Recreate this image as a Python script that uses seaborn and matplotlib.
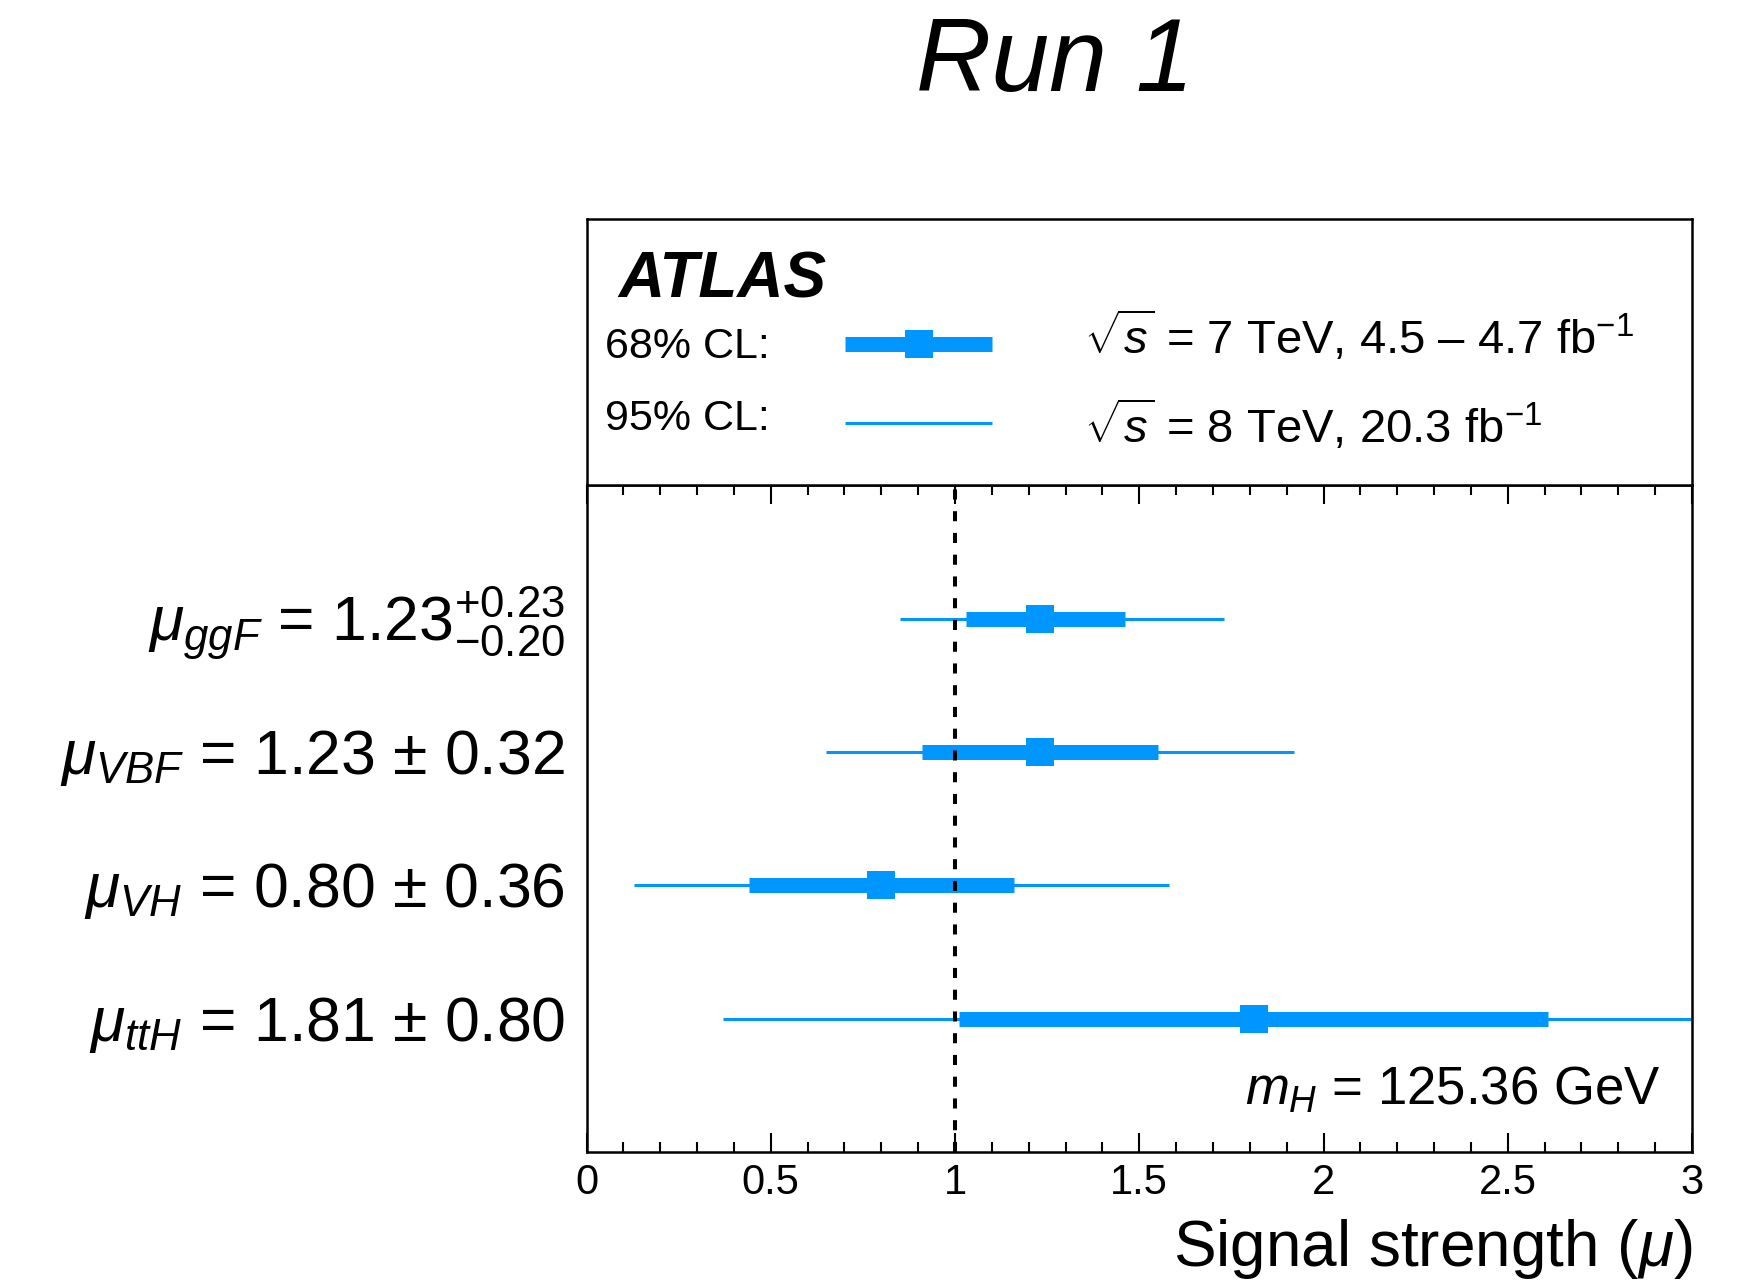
import numpy as np
import pandas as pd
import matplotlib
matplotlib.use("Agg")
import matplotlib.pyplot as plt
from matplotlib.ticker import FixedLocator, MultipleLocator
from matplotlib.transforms import blended_transform_factory
import seaborn as sns

# Signal strengths per production mode (ATLAS Run 1 combination)
processes = ["ggF", "VBF", "VH", "ttH"]
mu_central = [1.23, 1.23, 0.80, 1.81]
cl68_low = [1.03, 0.91, 0.44, 1.01]
cl68_high = [1.46, 1.55, 1.16, 2.61]
cl95_low = [0.85, 0.65, 0.13, 0.37]
cl95_high = [1.73, 1.92, 1.58, 3.40]
row_labels = [
    r"$\mu_{ggF}$ = 1.23$^{+0.23}_{-0.20}$",
    r"$\mu_{VBF}$ = 1.23 ± 0.32",
    r"$\mu_{VH}$ = 0.80 ± 0.36",
    r"$\mu_{ttH}$ = 1.81 ± 0.80",
]
x_ticks = [0, 0.5, 1, 1.5, 2, 2.5, 3]
x_tick_labels = ["0", "0.5", "1", "1.5", "2", "2.5", "3"]

BLUE = "#0096ff"

sns.set_style("ticks")
plt.rcParams["font.family"] = ["Liberation Sans", "DejaVu Sans"]
plt.rcParams["mathtext.fontset"] = "custom"
plt.rcParams["mathtext.rm"] = "Liberation Sans"
plt.rcParams["mathtext.it"] = "Liberation Sans:italic"
plt.rcParams["mathtext.bf"] = "Liberation Sans:bold"
plt.rcParams["text.color"] = "black"
plt.rcParams["axes.labelcolor"] = "black"
plt.rcParams["xtick.color"] = "black"
plt.rcParams["ytick.color"] = "black"

df = pd.DataFrame({
    "process": processes,
    "mu": mu_central,
    "lo68": cl68_low,
    "hi68": cl68_high,
    "lo95": cl95_low,
    "hi95": cl95_high,
    "label": row_labels,
})
# rows from top (ggF) to bottom (ttH)
df["row"] = np.arange(len(df))[::-1] + 1

W, H = 1742, 1286
fig = plt.figure(figsize=(W / 100, H / 100), dpi=100)

ax = fig.add_axes([0.3367, 0.1042, 0.6346, 0.5183])
ax_leg = fig.add_axes([0.3367, 0.6225, 0.6346, 0.2072])

# ---- main panel ----
ax.hlines(df["row"], df["lo95"], df["hi95"], color=BLUE, lw=2.2, zorder=2)
ax.hlines(df["row"], df["lo68"], df["hi68"], color=BLUE, lw=10.8, zorder=3)
sns.scatterplot(data=df, x="mu", y="row", marker="s", s=408, color=BLUE,
                linewidth=0, ax=ax, zorder=4, legend=False)
ax.axvline(1.0, color="black", lw=2.9, linestyle=(0, (2.5, 2.9)), zorder=5)

ax.set_xlim(0, 3)
ax.set_ylim(0, 5)
ax.set_xlabel("")
ax.set_ylabel("")
ax.set_yticks([])
ax.xaxis.set_major_locator(FixedLocator(x_ticks))
ax.set_xticklabels(x_tick_labels)
ax.xaxis.set_minor_locator(MultipleLocator(0.1))
ax.tick_params(axis="x", which="both", direction="in", top=True, bottom=True,
               labeltop=False, labelsize=30, pad=8, width=1.5,
               colors="black")
ax.tick_params(axis="x", which="major", length=13.7)
ax.tick_params(axis="x", which="minor", length=7)
for sp in ax.spines.values():
    sp.set_visible(True)
    sp.set_linewidth(1.8)
    sp.set_color("black")

row_tr = blended_transform_factory(fig.transFigure, ax.transData)
for _, r in df.iterrows():
    ax.text(565 / W, r["row"] - 0.165, r["label"], transform=row_tr,
            ha="right", va="baseline", fontsize=45, clip_on=False)

ax.text(2.913, 0.353, r"$m_H$ = 125.36 GeV", ha="right", va="baseline",
        fontsize=38)

# ---- header box ----
ax_leg.set_xlim(0, 3)
ax_leg.set_ylim(0, 1)
ax_leg.set_xticks([])
ax_leg.set_yticks([])
for sp in ax_leg.spines.values():
    sp.set_visible(True)
    sp.set_linewidth(1.8)
    sp.set_color("black")

ax_leg.text(0.085, 0.707, "ATLAS", fontsize=46, fontweight="bold",
            style="italic", ha="left", va="baseline")
ax_leg.text(0.05, 0.478, "68% CL:", fontsize=31, ha="left", va="baseline")
ax_leg.text(0.05, 0.208, "95% CL:", fontsize=31, ha="left", va="baseline")
ax_leg.hlines([0.531], [0.701], [1.100], color=BLUE, lw=10.8)
ax_leg.plot([0.902], [0.531], marker="s", ms=20.2, color=BLUE, mew=0)
ax_leg.hlines([0.235], [0.701], [1.100], color=BLUE, lw=2.2)
ax_leg.text(1.35, 0.493, r"$\sqrt{s}$ = 7 TeV, 4.5 – 4.7 fb$^{-1}$",
            fontsize=34, ha="left", va="baseline")
ax_leg.text(1.35, 0.159, r"$\sqrt{s}$ = 8 TeV, 20.3 fb$^{-1}$",
            fontsize=34, ha="left", va="baseline")

# ---- titles ----
fig.text(1692 / W, (H - 1266) / H, r"Signal strength ($\mu$)", fontsize=46,
         ha="right", va="baseline")
fig.text(1055 / W, (H - 91) / H, "Run 1", fontsize=75, style="italic",
         ha="center", va="baseline")

fig.savefig("out.png", dpi=100, facecolor="white")
